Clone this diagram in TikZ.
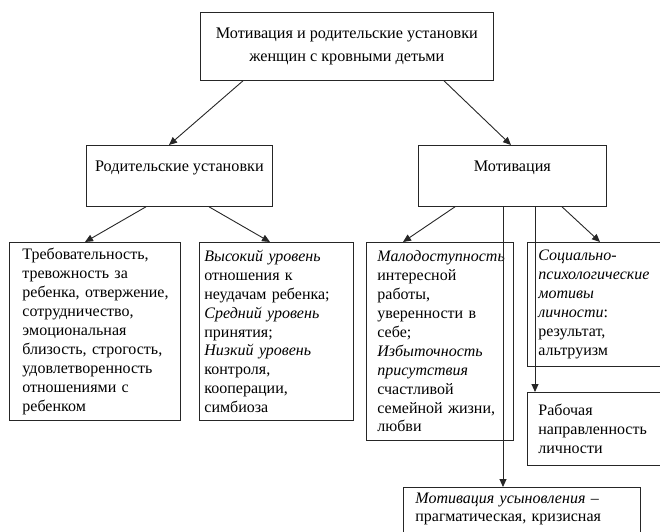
\documentclass[tikz,border=0pt]{standalone}
\usepackage{fontspec}
\setmainfont{Liberation Serif}
\usetikzlibrary{arrows.meta,calc}
\tikzset{
  box/.style={draw=black!85, line width=0.8bp, anchor=north west, inner ysep=0pt,
    align=left, font=\fontsize{16bp}{18.9bp}\selectfont},
  head/.style={draw=black!85, line width=0.8bp, anchor=north west, inner sep=0pt,
    align=center, font=\fontsize{16.2bp}{20bp}\selectfont},
  arr/.style={draw=black!85, line width=0.9bp, -{Triangle[length=8bp,width=7bp]}},
}
\begin{document}
\begin{tikzpicture}[x=1bp,y=-1bp]
		\useasboundingbox (0,0) rectangle (660,532);
		\clip (0,0) rectangle (660,532);
		
		% Top level
		\node[head, minimum width=293bp, minimum height=68bp,
		  font=\fontsize{16.2bp}{23bp}\selectfont] (top) at (200,12)
		  {Мотивация и родительские установки\\женщин с кровными детьми};
		
		% Second level
		\node[head, minimum width=186bp, minimum height=61bp] (rod) at (86,145)
		  {Родительские установки\\\mbox{}};
		\node[head, minimum width=188bp, minimum height=61bp] (motiv) at (418,145)
		  {Мотивация\\\mbox{}};
		
		% Parental attitudes
		\node[box, minimum height=178bp, inner xsep=11bp, text width=149bp] (treb) at (9,242)
		  {\hspace*{2bp}Требовательность,\\\hspace*{2bp}тревожность за\\\hspace*{2bp}ребенка, отвержение,\\\hspace*{2bp}сотрудничество,\\\hspace*{2bp}эмоциональная\\\hspace*{2bp}близость, строгость,\\\hspace*{2bp}удовлетворенность\\\hspace*{2bp}отношениями с\\\hspace*{2bp}ребенком};
		\node[box, minimum height=178bp, inner xsep=5bp, text width=144bp] (urov) at (199,242)
		  {\textit{Высокий уровень}\\отношения к\\неудачам ребенка;\\\textit{Средний уровень}\\принятия;\\\textit{Низкий уровень}\\контроля,\\кооперации,\\симбиоза};
		
		% Motivation
		\node[box, minimum height=198bp, inner xsep=11bp, text width=125bp] (malo) at (366,242)
		  {\textit{Малодоступность}\\интересной\\работы,\\уверенности в\\себе;\\\textit{Избыточность}\\\textit{присутствия}\\счастливой\\семейной жизни,\\любви};
		\node[box, minimum height=124bp, inner xsep=11bp, text width=128bp] (soc) at (527,242)
		  {\textit{Социально-}\\\textit{психологические}\\\textit{мотивы}\\\textit{личности}:\\результат,\\альтруизм};
		\node[box, minimum height=73bp, inner xsep=11bp, text width=128bp] (rab) at (527,392)
		  {Рабочая\\направленность\\личности};
		\node[box, minimum height=58bp, inner xsep=12bp, text width=213bp,
		  font=\fontsize{16bp}{18bp}\selectfont] (usyn) at (403,487)
		  {\textit{Мотивация усыновления} –\\прагматическая, кризисная\\\mbox{}};
		
		% Connectors
		\draw[arr] ($(top.south west)+(43,0)$) -- ($(rod.north west)+(83,0)$);
		\draw[arr] ($(top.south west)+(244,0)$) -- ($(motiv.north west)+(93,0)$);
		\draw[arr] ($(rod.south west)+(60,0)$) -- ($(treb.north west)+(76,0)$);
		\draw[arr] ($(rod.south west)+(123,0)$) -- ($(urov.north west)+(71,0)$);
		\draw[arr] ($(motiv.south west)+(37,0)$) -- ($(malo.north west)+(37,0)$);
		\coordinate (m1) at ($(motiv.south west)+(85,0)$);
		\coordinate (m2) at ($(motiv.south west)+(117,0)$);
		\draw[arr] (m1) -- (m1 |- usyn.north);
		\draw[arr] (m2) -- (m2 |- rab.north);
		\draw[arr] ($(motiv.south west)+(144,0)$) -- ($(soc.north west)+(73,0)$);
	\end{tikzpicture}
\end{document}
